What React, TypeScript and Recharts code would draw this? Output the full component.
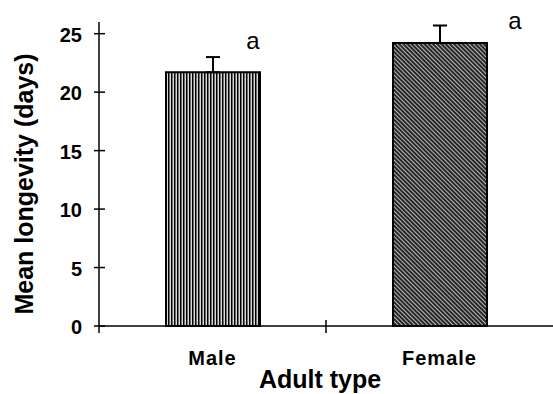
import React from "react"
import { BarChart, Bar, XAxis, YAxis, ErrorBar, LabelList, Cell } from "recharts"

const adultTypes = ["Male", "Female"]
const meanLongevity = [21.7, 24.2]
const standardError = [1.3, 1.5]
const groupLetters = ["a", "a"]
const yTicks = [0, 5, 10, 15, 20, 25]

const FONT = '"Liberation Sans", Arial, Helvetica, sans-serif'

const data = adultTypes.map((type, i) => ({
  type,
  longevity: meanLongevity[i],
  // one-sided bar: only the upper half of the error is drawn
  se: [0, standardError[i]],
  letter: groupLetters[i],
}))

const barFills = ["url(#stripes)", "url(#hatch)"]

// where each significance letter sits, relative to the top-left of its bar
const letterOffsets = [
  { dx: 87, dy: -23 },
  { dx: 122, dy: -14 },
]

function YTick({ x, y, payload }: any) {
  const axisX = x + 17
  return (
    <g>
      <line x1={axisX - 5} x2={axisX + 6} y1={y} y2={y} stroke="#000" strokeWidth={1.5} />
      <text x={x} y={y} dy={8} textAnchor="end" fontSize={20} fontWeight="bold" fontFamily={FONT} fill="#000">
        {payload.value}
      </text>
    </g>
  )
}

function XTick({ x, y, payload, index }: any) {
  const half = payload.offset ?? 113
  return (
    <g>
      {index === 0 && (
        <>
          {/* y axis runs a little below the baseline */}
          <line x1={x - half} x2={x - half} y1={y} y2={y + 7} stroke="#000" strokeWidth={1.5} />
          {/* divider between the two categories */}
          <line x1={x + half} x2={x + half} y1={y - 6} y2={y + 7} stroke="#000" strokeWidth={1.5} />
        </>
      )}
      <text x={x} y={y + 39} textAnchor="middle" fontSize={20} fontWeight="bold" letterSpacing={1} fontFamily={FONT} fill="#000">
        {payload.value}
      </text>
    </g>
  )
}

function Letter(props: any) {
  const { x, y, index, value } = props
  const off = letterOffsets[index] ?? { dx: 0, dy: -10 }
  return (
    <text x={x + off.dx} y={y + off.dy} textAnchor="middle" fontSize={24} fontFamily={FONT} fill="#000">
      {value}
    </text>
  )
}

export default function App() {
  return (
    <div style={{ position: "absolute", left: 0, top: 0, background: "#fff" }}>
      <BarChart width={553} height={394} data={data} margin={{ top: 22, right: 0, bottom: 0, left: 0 }}>
        <defs>
          <pattern id="stripes" width="3" height="6" patternUnits="userSpaceOnUse">
            <rect width="3" height="6" fill="#d8d8d8" />
            <rect x="0" width="1" height="6" fill="#000" />
            <rect x="1" width="1" height="6" fill="#6e6e6e" />
          </pattern>
          <pattern id="hatch" width="3" height="6" patternUnits="userSpaceOnUse" patternTransform="rotate(-45)">
            <rect width="3" height="6" fill="#262626" />
            <rect x="0" width="1" height="6" fill="#b8b8b8" />
          </pattern>
        </defs>
        <XAxis
          dataKey="type"
          height={68}
          tickSize={0}
          tickMargin={0}
          tickLine={false}
          axisLine={{ stroke: "#000", strokeWidth: 1.5 }}
          tick={<XTick />}
          label={{
            value: "Adult type",
            content: ({ viewBox }: any) => (
              <text
                x={viewBox.x + viewBox.width / 2 - 6}
                y={388}
                textAnchor="middle"
                fontSize={25}
                fontWeight="bold"
                fontFamily={FONT}
                fill="#000"
              >
                Adult type
              </text>
            ),
          }}
        />
        <YAxis
          width={99}
          domain={[0, 26]}
          ticks={yTicks}
          tickSize={0}
          tickMargin={17}
          tickLine={false}
          axisLine={{ stroke: "#000", strokeWidth: 1.5 }}
          tick={<YTick />}
          label={{
            value: "Mean longevity (days)",
            content: ({ viewBox }: any) => {
              const cx = 33
              const cy = viewBox.y + viewBox.height / 2 + 10
              return (
                <text
                  x={cx}
                  y={cy}
                  transform={`rotate(-90, ${cx}, ${cy})`}
                  textAnchor="middle"
                  fontSize={25}
                  fontWeight="bold"
                  fontFamily={FONT}
                  fill="#000"
                >
                  Mean longevity (days)
                </text>
              )
            },
          }}
        />
        <Bar dataKey="longevity" barSize={94} stroke="#000" strokeWidth={2} isAnimationActive={false}>
          {data.map((d, i) => (
            <Cell key={d.type} fill={barFills[i]} />
          ))}
          <ErrorBar dataKey="se" width={7} stroke="#000" strokeWidth={2} direction="y" />
          <LabelList dataKey="letter" content={<Letter />} />
        </Bar>
      </BarChart>
    </div>
  )
}
